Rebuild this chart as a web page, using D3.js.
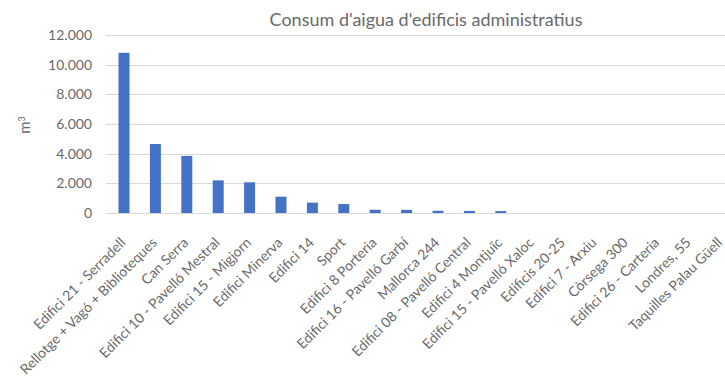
<!DOCTYPE html>
<html><head><meta charset="utf-8">
<script src="https://cdn.jsdelivr.net/npm/d3@7"></script>
<style>body{margin:0;background:#fff}svg{display:block}text{font-family:Lato,"Open Sans",sans-serif;fill:#6a6a6a}</style>
</head><body><svg id="c" width="725" height="376"></svg>
<script>
const categories = ["Edifici 21 - Serradell","Rellotge + Vagó + Biblioteques","Can Serra","Edifici 10 - Pavelló Mestral","Edifici 15 - Migjorn","Edifici Minerva","Edifici 14","Sport","Edifici 8 Porteria","Edifici 16 - Pavelló Garbí","Mallorca 244","Edifici 08 - Pavelló Central","Edifici 4 Montjuïc","Edifici 15 - Pavelló Xaloc","Edificis 20-25","Edifici 7 - Arxiu","Còrsega 300","Edifici 26 - Carteria","Londres, 55","Taquilles Palau Güell"];
const values = [10800,4650,3850,2200,2070,1100,700,600,220,210,150,140,130,0,0,0,0,0,0,0];
const yTicks = [0,2000,4000,6000,8000,10000,12000];
const title = "Consum d'aigua d'edificis administratius";

const svg = d3.select("#c");
const x = d3.scaleBand().domain(categories).range([108.3, 736.3]).paddingInner(0.65).paddingOuter(0.325);
const y = d3.scaleLinear().domain([0,12000]).range([213,35]);
const loc = d3.formatLocale({decimal:",",thousands:".",grouping:[3],currency:["","€"]});
const fmt = loc.format(",d");

svg.append("g").selectAll("line").data(yTicks).join("line")
  .attr("x1",106).attr("x2",725).attr("y1",d=>Math.round(y(d))+0.5).attr("y2",d=>Math.round(y(d))+0.5)
  .attr("stroke","#d9d9d9").attr("stroke-width",1);

svg.append("g").selectAll("text").data(yTicks).join("text")
  .attr("x",92).attr("y",d=>y(d)).attr("dy","0.35em").attr("text-anchor","end")
  .attr("font-size",14).attr("fill","#7a7a7a").text(d=>fmt(d));

svg.append("g").selectAll("rect").data(values).join("rect")
  .attr("x",(d,i)=>x(categories[i])).attr("width",x.bandwidth())
  .attr("y",d=>y(d)).attr("height",d=>y(0)-y(d)).attr("fill","#4472c4");

svg.append("g").selectAll("text").data(categories).join("text")
  .attr("transform",d=>`translate(${x(d)+x.bandwidth()/2-1},${240}) rotate(-45)`)
  .attr("text-anchor","end").attr("dy","0.35em").attr("font-size",14).attr("fill","#7a7a7a").text(d=>d);

const yl = svg.append("text").attr("transform","translate(30,125) rotate(-90)")
  .attr("text-anchor","middle").attr("font-size",15).attr("fill","#7a7a7a");
yl.append("tspan").text("m");
yl.append("tspan").attr("font-size",9).attr("dy","-0.6em").text("3");

svg.append("text").attr("x",426).attr("y",26).attr("text-anchor","middle").attr("font-size",18).text(title);
</script></body></html>
